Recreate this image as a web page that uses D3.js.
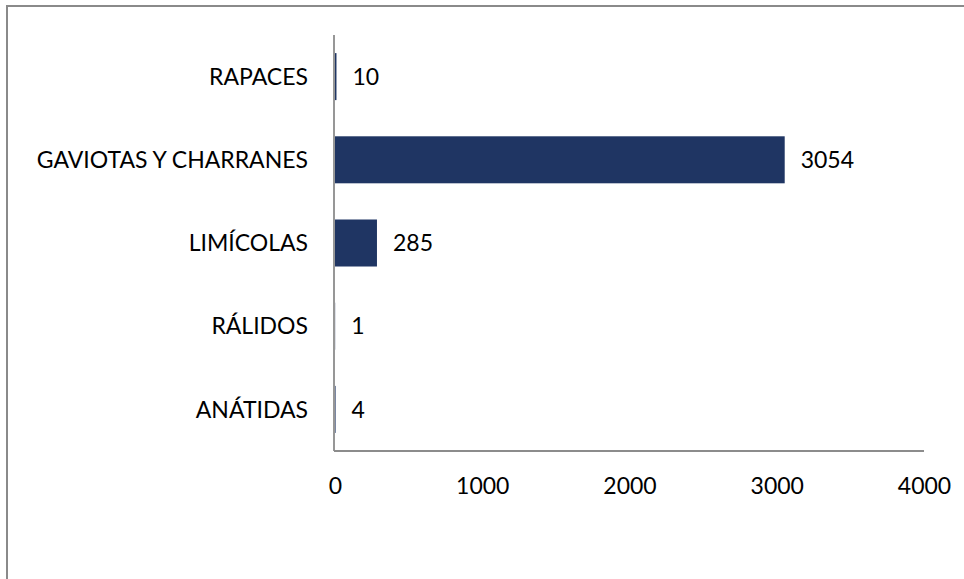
<!DOCTYPE html>
<html>
<head>
<meta charset="utf-8">
<script src="https://cdn.jsdelivr.net/npm/d3@7"></script>
<style>
  body { margin: 0; background: #fff; }
  text { font-family: Lato, "Open Sans", sans-serif; fill: #000; }
</style>
</head>
<body>
<svg width="964" height="579"></svg>
<script>
// data, top to bottom
const categories = ["RAPACES", "GAVIOTAS Y CHARRANES", "LIMÍCOLAS", "RÁLIDOS", "ANÁTIDAS"];
const counts = [10, 3054, 285, 1, 4];
const xTicks = [0, 1000, 2000, 3000, 4000];

const rows = categories.map((c, i) => ({name: c, value: counts[i]}));

const svg = d3.select("svg");

// outer chart frame (goes off the picture at right / bottom)
svg.append("rect")
    .attr("x", 7)
    .attr("y", 6)
    .attr("width", 1000)
    .attr("height", 620)
    .attr("fill", "none")
    .attr("stroke", "#8a8a8a")
    .attr("stroke-width", 2);

const plotL = 335, plotR = 924, plotT = 35, plotB = 451;
const fontSize = "23px";

const x = d3.scaleLinear()
    .domain([0, 4000])
    .range([plotL, plotR]);

const y = d3.scaleBand()
    .domain(categories)
    .range([plotT, plotB])
    .paddingInner(0.435)
    .paddingOuter(0.2175);

// bars
svg.selectAll(".bar")
    .data(rows)
    .enter().append("rect")
    .attr("class", "bar")
    .attr("x", x(0))
    .attr("y", d => y(d.name))
    .attr("width", d => x(d.value) - x(0))
    .attr("height", y.bandwidth())
    .attr("fill", "#1f3563");

// value labels
svg.selectAll(".val")
    .data(rows)
    .enter().append("text")
    .attr("class", "val")
    .attr("x", d => x(d.value) + 16)
    .attr("y", d => y(d.name) + y.bandwidth() / 2)
    .attr("dy", "0.36em")
    .attr("font-size", fontSize)
    .text(d => d.value);

// axes: lines only, no tick marks
const xAxis = svg.append("g")
    .attr("transform", "translate(0," + plotB + ")")
    .call(d3.axisBottom(x).tickValues(xTicks).tickFormat(d3.format("d")).tickSize(0).tickPadding(43));
xAxis.select(".domain").attr("stroke", "#8c8c8c").attr("stroke-width", 1.8)
    .attr("d", "M" + (plotL - 1) + ",0H" + plotR);
xAxis.selectAll("text")
    .attr("dy", 0)
    .attr("font-size", fontSize)
    .attr("font-family", "Lato, sans-serif");

const yAxis = svg.append("g")
    .attr("transform", "translate(" + (plotL - 1) + ",0)")
    .call(d3.axisLeft(y).tickSize(0).tickPadding(26));
yAxis.select(".domain").attr("stroke", "#8c8c8c").attr("stroke-width", 1.8)
    .attr("d", "M0," + plotT + "V" + plotB);
yAxis.selectAll("text")
    .attr("dy", "0.36em")
    .attr("font-size", fontSize)
    .attr("font-family", "Lato, sans-serif");
</script>
</body>
</html>
